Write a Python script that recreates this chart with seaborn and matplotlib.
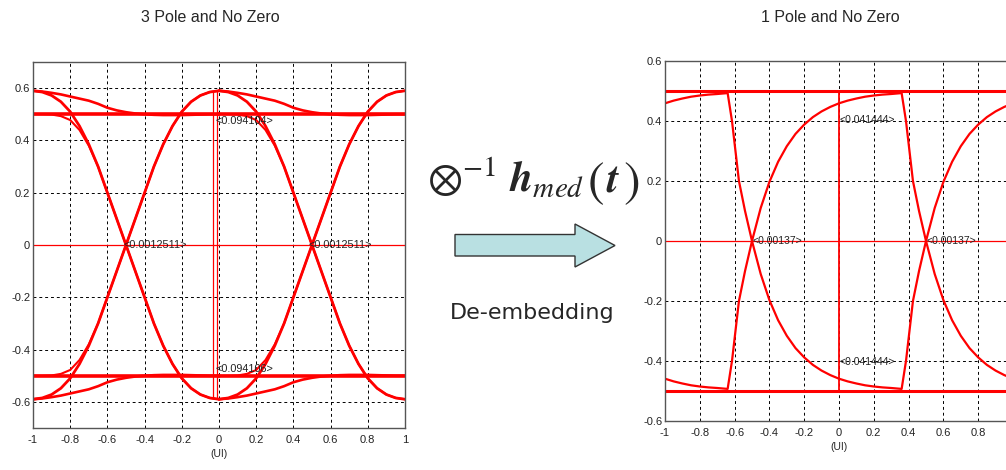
import numpy as np
import matplotlib
matplotlib.use("Agg")
import matplotlib.pyplot as plt
import seaborn as sns
from matplotlib.patches import Polygon

sns.set_style("white")
plt.rcParams["font.family"] = ["Liberation Sans", "DejaVu Sans"]
plt.rcParams["mathtext.fontset"] = "stix"

# ---- axis ticks -------------------------------------------------------
ui_ticks = [-1, -0.8, -0.6, -0.4, -0.2, 0, 0.2, 0.4, 0.6, 0.8, 1]
ui_labels = ["-1", "-0.8", "-0.6", "-0.4", "-0.2", "0", "0.2", "0.4", "0.6", "0.8", "1"]
amp_ticks = [-0.6, -0.4, -0.2, 0, 0.2, 0.4, 0.6]
amp_labels = ["-0.6", "-0.4", "-0.2", "0", "0.2", "0.4", "0.6"]

# ---- 3 pole eye: one UI of each trace type (upper rail; lower rail is mirrored)
seg_x = [-1.0, -0.95, -0.9, -0.85, -0.8, -0.75, -0.7, -0.65, -0.6, -0.55, -0.5,
         -0.45, -0.4, -0.35, -0.3, -0.25, -0.2, -0.15, -0.1, -0.05, 0.0]
settle_trace = [0.59, 0.587, 0.582, 0.576, 0.568, 0.56, 0.552, 0.54, 0.525, 0.515,
                0.508, 0.503, 0.5, 0.498, 0.497, 0.497, 0.497, 0.498, 0.499, 0.5, 0.5]
hold_trace = [0.5] * 21
swing_trace = [0.59, 0.585, 0.572, 0.548, 0.51, 0.455, 0.385, 0.3, 0.2, 0.1, 0.0,
               -0.1, -0.2, -0.3, -0.385, -0.455, -0.51, -0.548, -0.572, -0.585, -0.59]
late_swing_trace = [0.5, 0.5, 0.499, 0.493, 0.478, 0.44, 0.38, 0.3, 0.2, 0.1, 0.0,
                    -0.1, -0.2, -0.3, -0.385, -0.455, -0.51, -0.548, -0.572, -0.585, -0.59]
eye3_ui_offsets = [0.0, 1.0]
eye3_markers = [-0.03, -0.012]
eye3_marker_span = [-0.59, 0.59]
eye3_height_labels = ["<0.094104>", "<0.094106>"]
eye3_cross_label = "<0.0012511>"

# ---- 1 pole eye: alternating trace across the window, plus steady rails
eye1_x = [-1.0, -0.95, -0.9, -0.85, -0.8, -0.75, -0.7, -0.64,
          -0.615, -0.595, -0.575, -0.54, -0.5,
          -0.45, -0.4, -0.35, -0.3, -0.25, -0.2, -0.15, -0.1, -0.05, 0.0,
          0.05, 0.1, 0.15, 0.2, 0.25, 0.3, 0.36,
          0.385, 0.405, 0.425, 0.46, 0.5,
          0.55, 0.6, 0.65, 0.7, 0.75, 0.8, 0.85, 0.9, 0.95, 1.0]
eye1_alt = [0.459, 0.468, 0.475, 0.481, 0.485, 0.488, 0.49, 0.493,
            0.4, 0.3, 0.2, 0.1, 0.0,
            -0.11, -0.197, -0.264, -0.316, -0.357, -0.388, -0.413, -0.432, -0.447, -0.459,
            -0.468, -0.475, -0.481, -0.485, -0.488, -0.49, -0.493,
            -0.4, -0.3, -0.2, -0.1, 0.0,
            0.11, 0.197, 0.264, 0.316, 0.357, 0.388, 0.413, 0.432, 0.447, 0.459]
eye1_rails = [0.5, -0.5]
eye1_marker_span = [-0.5, 0.5]
eye1_height_label = "<0.041444>"
eye1_cross_label = "<0.00137>"

RED = "#ff0000"
INK = "#222222"
W, H = 1006, 470


def fx(px):
    return px / W


def fy(py):
    return 1 - py / H


def style_axes(ax, ylim, n_xlabels):
    ax.set_xlim(-1, 1)
    ax.set_ylim(*ylim)
    ax.set_xticks(ui_ticks[:n_xlabels])
    ax.set_xticklabels(ui_labels[:n_xlabels])
    ax.set_yticks(amp_ticks)
    ax.set_yticklabels(amp_labels)
    ax.grid(True, color="black", linestyle=(0, (3, 3)), linewidth=0.7)
    ax.set_axisbelow(True)
    ax.tick_params(axis="both", length=0, labelsize=8, colors=INK)
    ax.tick_params(axis="y", pad=2)
    ax.tick_params(axis="x", pad=5)
    for sp in ax.spines.values():
        sp.set_color("#555555")
        sp.set_linewidth(1.0)
    ax.set_xlabel("(UI)", fontsize=7.5, labelpad=3)
    ax.set_ylabel("")


fig = plt.figure(figsize=(W / 100, H / 100), dpi=100)
fig.patch.set_facecolor("white")

# ---------------- left: 3 pole and no zero ----------------
ax1 = fig.add_axes([fx(33), fy(428), fx(405) - fx(33), fy(62) - fy(428)])
sx = np.array(seg_x)
for off in eye3_ui_offsets:
    for tr, lw in [(hold_trace, 2.6), (settle_trace, 1.9),
                   (swing_trace, 2.0), (late_swing_trace, 1.5)]:
        for sign in (1, -1):
            sns.lineplot(x=sx + off, y=sign * np.array(tr), ax=ax1, color=RED,
                         linewidth=lw, estimator=None, sort=False, legend=False)
ax1.axhline(0, color=RED, linewidth=0.9)
ax1.vlines(eye3_markers, eye3_marker_span[0], eye3_marker_span[1],
           color=RED, linewidth=0.9)
style_axes(ax1, (-0.7, 0.7), len(ui_ticks))
ax1.text(-0.02, 0.475, eye3_height_labels[0], fontsize=7.8, ha="left", va="center", color=INK)
ax1.text(-0.02, -0.475, eye3_height_labels[1], fontsize=7.8, ha="left", va="center", color=INK)
ax1.text(-0.515, 0.0, eye3_cross_label, fontsize=7.8, ha="left", va="center", color=INK)
ax1.text(0.483, 0.0, eye3_cross_label, fontsize=7.8, ha="left", va="center", color=INK)

# ---------------- right: 1 pole and no zero ----------------
ax2 = fig.add_axes([fx(665), fy(421), fx(1013) - fx(665), fy(61) - fy(421)])
ex = np.array(eye1_x)
for sign in (1, -1):
    sns.lineplot(x=ex, y=sign * np.array(eye1_alt), ax=ax2, color=RED,
                 linewidth=1.6, estimator=None, sort=False, legend=False)
for lvl in eye1_rails:
    sns.lineplot(x=[-1, 1], y=[lvl, lvl], ax=ax2, color=RED, linewidth=2.2,
                 estimator=None, sort=False, legend=False)
ax2.axhline(0, color=RED, linewidth=0.9)
ax2.vlines([0.0], eye1_marker_span[0], eye1_marker_span[1], color=RED, linewidth=1.3)
# the window runs past the right edge of the figure, so the last tick label is left off
style_axes(ax2, (-0.6, 0.6), len(ui_ticks) - 1)
ax2.text(0.0, 0.403, eye1_height_label, fontsize=7.5, ha="left", va="center", color=INK)
ax2.text(0.0, -0.403, eye1_height_label, fontsize=7.5, ha="left", va="center", color=INK)
ax2.text(-0.496, 0.0, eye1_cross_label, fontsize=7.5, ha="left", va="center", color=INK)
ax2.text(0.504, 0.0, eye1_cross_label, fontsize=7.5, ha="left", va="center", color=INK)

# ---------------- titles ----------------
fig.text(fx(210), fy(18), "3 Pole and No Zero", fontsize=11.5, ha="center", va="center")
fig.text(fx(830), fy(17), "1 Pole and No Zero", fontsize=11.5, ha="center", va="center")

# ---------------- de-embedding operator and arrow ----------------
fig.text(fx(427), fy(192), r"$\otimes^{-1}\ \mathbfit{h}_{\mathit{med}}$",
         fontsize=30, ha="left", va="baseline")
fig.text(fx(596), fy(196), r"$\mathrm{(}$", fontsize=36, ha="center", va="baseline")
fig.text(fx(613), fy(192), r"$\mathbfit{t}$", fontsize=30, ha="center", va="baseline")
fig.text(fx(631), fy(196), r"$\mathrm{)}$", fontsize=36, ha="center", va="baseline")
arrow_px = [(455, 234.5), (575, 234.5), (575, 224), (615, 245.5),
            (575, 267), (575, 256), (455, 256)]
arrow = Polygon([(fx(x), fy(y)) for x, y in arrow_px], closed=True,
                transform=fig.transFigure, facecolor="#b9e0e2",
                edgecolor="#333333", linewidth=1.0)
fig.patches.append(arrow)
fig.text(fx(532), fy(313), "De-embedding", fontsize=16, family="DejaVu Sans",
         ha="center", va="center")

fig.savefig("out.png", dpi=100)
